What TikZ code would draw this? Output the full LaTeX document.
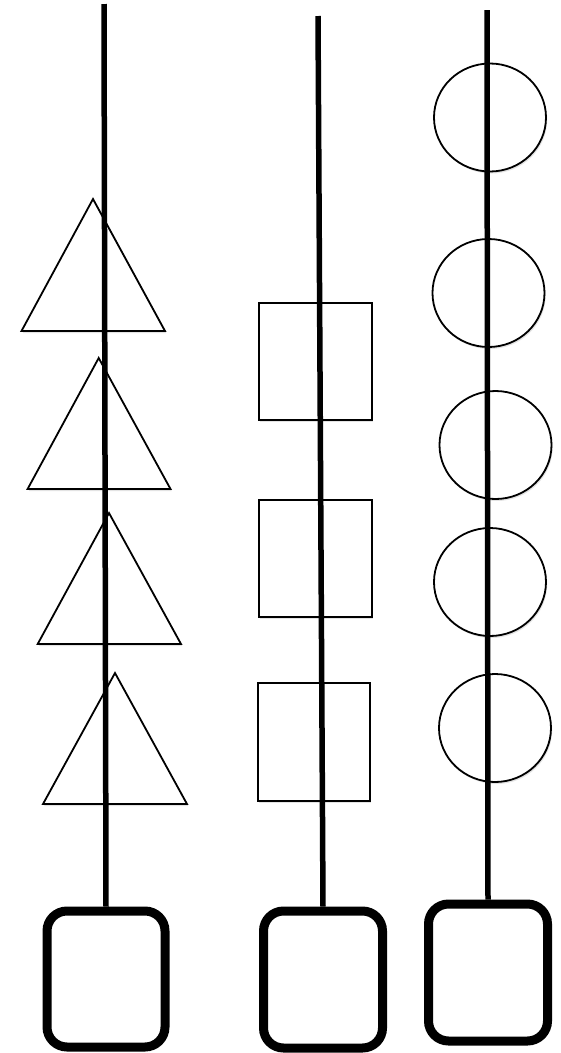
\documentclass[tikz,border=0pt]{standalone}
\usetikzlibrary{shapes.geometric,shadows}
\begin{document}
\begin{tikzpicture}[x=1pt,y=-1pt,
  softshadow/.style={drop shadow={shadow xshift=1.2pt,shadow yshift=-2pt,opacity=0.22}},
  thinshape/.style={draw=black,line width=1.8pt,fill=white,softshadow},
  boxshape/.style={thinshape,rectangle,inner sep=0pt,minimum width=113,minimum height=117},
  ringshape/.style={thinshape,ellipse,inner sep=0pt,minimum width=112,minimum height=108},
  baseshape/.style={draw=black,line width=9pt,fill=white,softshadow,rectangle,rounded corners=20pt,inner sep=0pt,minimum width=118,minimum height=136},
  stem/.style={draw=black,line width=5.5pt}]
\useasboundingbox[fill=white] (0,0) rectangle (560,1053);

% triangles (left column)
\path[thinshape] (93,199) -- (165,331) -- (21.5,331) -- cycle;
\path[thinshape] (98.7,358) -- (170.5,489) -- (27.6,489) -- cycle;
\path[thinshape] (109,513) -- (181,644) -- (37.7,644) -- cycle;
\path[thinshape] (115,673) -- (187,804) -- (43,804) -- cycle;

% rectangles (middle column)
\node[boxshape] (r1) at (315.5,361.5) {};
\node[boxshape] (r2) at (315.5,558.5) {};
\node[boxshape,minimum width=112,minimum height=118] (r3) at (314,742) {};

% circles (right column)
\node[ringshape] (c1) at (490,117.5) {};
\node[ringshape] (c2) at (488.5,293) {};
\node[ringshape] (c3) at (495.5,445) {};
\node[ringshape] (c4) at (490,582) {};
\node[ringshape] (c5) at (495,728) {};

% bottom rounded squares
\node[baseshape] (b1) at (106,979) {};
\node[baseshape,minimum width=119,minimum height=137] (b2) at (323,979.5) {};
\node[baseshape,minimum width=119,minimum height=137] (b3) at (488,972.5) {};

% stems
\coordinate (t1) at (104,4);
\coordinate (t2) at (318,16);
\coordinate (t3) at (487,10);
\draw[stem] (t1) -- (b1.north);
\draw[stem] (t2) -- (b2.north);
\draw[stem] (t3) -- (b3.north);
\end{tikzpicture}
\end{document}
